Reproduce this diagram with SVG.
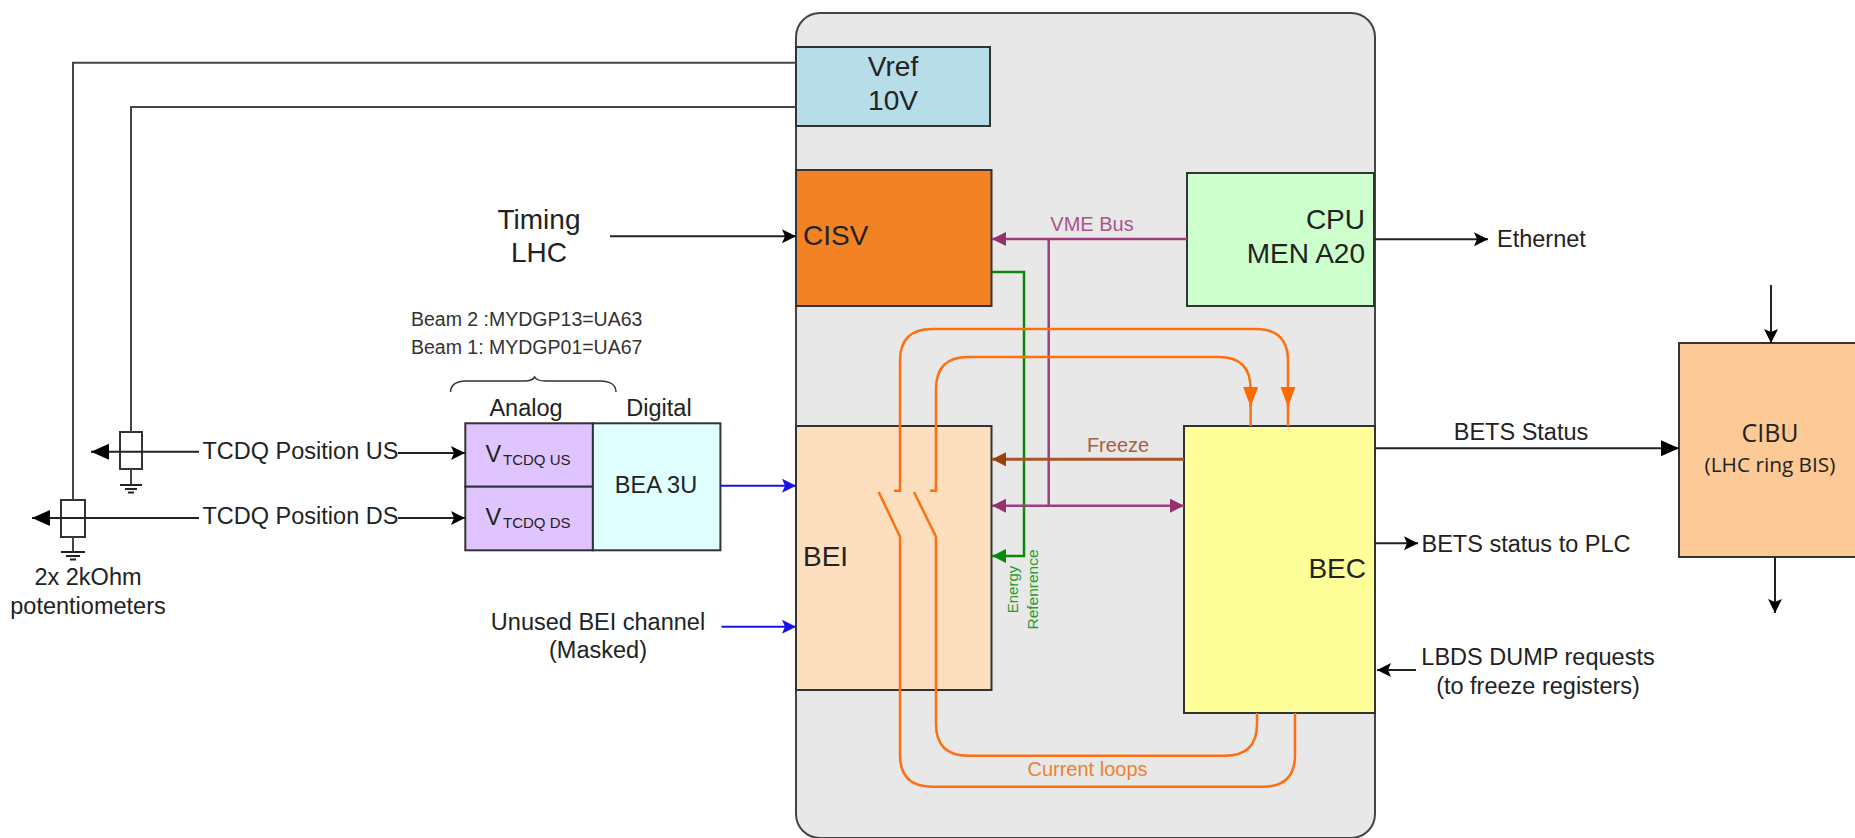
<svg xmlns="http://www.w3.org/2000/svg" width="1855" height="838" viewBox="0 0 1855 838">
<style>
text{font-family:"Liberation Sans",Arial,sans-serif;font-size:23.5px;fill:#222}
.m{text-anchor:middle}.e{text-anchor:end}
.big{font-size:28px}
.box{stroke:#333;stroke-width:2}
.w{fill:none;stroke:#222;stroke-width:2}
.t{fill:none;stroke:#444;stroke-width:2}
.o{fill:none;stroke:#ff6f10;stroke-width:2.5}
.p{fill:none;stroke:#9c3f7c;stroke-width:2.5}
.sm{font-size:19.5px;fill:#333}
.c{font-family:"Open Sans",sans-serif}
.sub{font-size:15px}
.lb{font-size:20px}
</style>
<defs>
<marker id="ab" markerUnits="userSpaceOnUse" markerWidth="16" markerHeight="16" refX="14" refY="7" orient="auto-start-reverse"><path d="M0 0L14 7L0 14L3 7Z" fill="#000"/></marker>
<marker id="abig" markerUnits="userSpaceOnUse" markerWidth="20" markerHeight="18" refX="18" refY="8" orient="auto"><path d="M0 0L18 8L0 16Z" fill="#000"/></marker>
<marker id="ablue" markerUnits="userSpaceOnUse" markerWidth="16" markerHeight="16" refX="14" refY="7" orient="auto"><path d="M0 0L14 7L0 14L3 7Z" fill="#1414e6"/></marker>
<marker id="apur" markerUnits="userSpaceOnUse" markerWidth="16" markerHeight="16" refX="14" refY="7" orient="auto-start-reverse"><path d="M0 0L14 7L0 14Z" fill="#97306f"/></marker>
<marker id="abro" markerUnits="userSpaceOnUse" markerWidth="16" markerHeight="16" refX="14" refY="7" orient="auto"><path d="M0 0L14 7L0 14Z" fill="#9a3f10"/></marker>
<marker id="agrn" markerUnits="userSpaceOnUse" markerWidth="16" markerHeight="16" refX="14" refY="7" orient="auto"><path d="M0 0L14 7L0 14Z" fill="#0a8a0a"/></marker>
<marker id="aora" markerUnits="userSpaceOnUse" markerWidth="16" markerHeight="22" refX="20" refY="7.5" orient="auto"><path d="M0 0L20 7.5L0 15Z" fill="#ff6a00"/></marker>
</defs>

<g id="crate"><rect x="796" y="13" width="579" height="825" rx="24" ry="24" fill="#e8e8e8" stroke="#444" stroke-width="2"/></g>

<g id="vref"><rect class="box" x="796" y="47" width="194" height="79" fill="#b7dde8"/><text class="m big" x="893" y="76">Vref</text><text class="m big" x="893" y="110">10V</text></g>
<g id="cisv"><rect class="box" x="796" y="170" width="195.500" height="136" fill="#f28224"/><text class="big" x="803" y="245">CISV</text></g>
<g id="cpu"><rect class="box" x="1187" y="173" width="187" height="133" fill="#ccffcc"/><text class="big e" x="1365" y="229">CPU</text><text class="big e" x="1365" y="263">MEN A20</text></g>
<g id="bei"><rect class="box" x="796" y="426" width="195.500" height="264" fill="#fddfc0"/><text class="big" x="803" y="566">BEI</text></g>
<g id="bec"><rect class="box" x="1184" y="426" width="191" height="287" fill="#ffff99"/><text class="big e" x="1366" y="578">BEC</text></g>
<g id="cibu"><rect class="box" x="1679" y="343" width="190" height="214" fill="#fcc997"/><text class="m c" x="1770" y="442" style="font-size:25px">CIBU</text><text class="m c" x="1770" y="472" style="font-size:20.800px">(LHC ring BIS)</text></g>
<g id="vtcdq-us"><rect class="box" x="465.300" y="423.300" width="127.600" height="63.400" fill="#e0c4ff"/><text x="485.500" y="462">V</text><text class="sub" x="503" y="465">TCDQ US</text></g>
<g id="vtcdq-ds"><rect class="box" x="465.300" y="486.700" width="127.600" height="63.600" fill="#e0c4ff"/><text x="485.500" y="525">V</text><text class="sub" x="503" y="528">TCDQ DS</text></g>
<g id="bea"><rect class="box" x="592.900" y="423.300" width="127.500" height="127" fill="#e0ffff"/><text class="m" x="656" y="493">BEA 3U</text></g>
<g id="pot-us"><rect x="120" y="432" width="22" height="37" fill="none" stroke="#333" stroke-width="2"/></g>
<g id="pot-ds"><rect x="61" y="500" width="24" height="37" fill="none" stroke="#333" stroke-width="2"/></g>

<g id="connectors">
<path class="t" d="M796 62.700H73V500M73 537V552"/>
<path class="t" d="M796 107H131V432M131 469V485"/>
<path class="w" d="M120 485h22M125 489h12M128 492.500h6M61 552h24M66 556h14M70 559.500h6"/>
<path class="w" d="M199 451.700H91" marker-end="url(#abig)"/>
<path class="w" d="M199 518H32" marker-end="url(#abig)"/>
<path class="w" d="M398 453H465" marker-end="url(#ab)"/>
<path class="w" d="M398 518H465" marker-end="url(#ab)"/>
<path class="w" d="M610 236.300H796" marker-end="url(#ab)"/>
<path class="w" d="M1375 239.300H1488" marker-end="url(#ab)"/>
<path class="w" d="M1375 448.300H1679" marker-end="url(#abig)"/>
<path class="w" d="M1375 543.300H1418" marker-end="url(#ab)"/>
<path class="w" d="M1416 670H1377" marker-end="url(#ab)"/>
<path class="w" d="M1771 285V343" marker-end="url(#ab)"/>
<path class="w" d="M1775 557V613" marker-end="url(#ab)"/>
<path fill="none" stroke="#1414e6" stroke-width="2" d="M720.400 485.700H796" marker-end="url(#ablue)"/>
<path fill="none" stroke="#1414e6" stroke-width="2" d="M721.500 626.700H796" marker-end="url(#ablue)"/>
<path fill="none" stroke="#0a8a0a" stroke-width="2.500" d="M992 272H1024V556H992" marker-end="url(#agrn)"/>
<path class="p" d="M1187 239H992" marker-end="url(#apur)"/>
<path class="p" d="M1048.700 239V505.700"/>
<path class="p" d="M992 505.700H1184" marker-start="url(#apur)" marker-end="url(#apur)"/>
<path fill="none" stroke="#a8552a" stroke-width="3" d="M1184 459.300H992" marker-end="url(#abro)"/>
<path class="o" d="M894 490.700H900V361Q900 329 932 329H1256Q1288 329 1288 361V407" marker-end="url(#aora)"/>
<path class="o" d="M1288 400V426"/>
<path class="o" d="M930 490.700H936V389Q936 357 968 357H1219Q1250.600 357 1250.600 389V407" marker-end="url(#aora)"/>
<path class="o" d="M1250.600 400V426"/>
<path class="o" d="M878.700 492L900 536.700V755Q900 786.700 932 786.700H1263Q1295 786.700 1295 755V713"/>
<path class="o" d="M914 492L936 536.700V724Q936 755.700 968 755.700H1225Q1257 755.700 1257 724V713"/>
<path fill="none" stroke="#333" stroke-width="1.500" d="M450.500 392C451 385 456 381 466 381H525Q532 381 534.700 377Q537 381 545 381H600C610 381 616 385 616 392"/>
</g>

<g id="labels">
<text class="m big" x="539" y="229">Timing</text>
<text class="m big" x="539" y="262">LHC</text>
<text class="sm" x="411" y="326">Beam 2 :MYDGP13=UA63</text>
<text class="sm" x="411" y="354">Beam 1: MYDGP01=UA67</text>
<text class="m" x="526" y="416">Analog</text>
<text class="m" x="659" y="416">Digital</text>
<text x="202.500" y="459">TCDQ Position US</text>
<text x="202.500" y="523.500">TCDQ Position DS</text>
<text class="m" x="88" y="585">2x 2kOhm</text>
<text class="m" x="88" y="613.500">potentiometers</text>
<text class="m" x="598" y="630">Unused BEI channel</text>
<text class="m" x="598" y="658">(Masked)</text>
<text x="1497" y="247">Ethernet</text>
<text class="m" x="1521" y="440">BETS Status</text>
<text x="1421.500" y="551.700">BETS status to PLC</text>
<text class="m" x="1538" y="665">LBDS DUMP requests</text>
<text class="m" x="1538" y="694">(to freeze registers)</text>
<text class="m lb" x="1092" y="231" style="fill:#a8558a">VME Bus</text>
<text class="m lb" x="1118" y="452" style="fill:#a8603a">Freeze</text>
<text class="m lb" x="1087.500" y="776" style="fill:#f08030">Current loops</text>
<text class="m" transform="translate(1018 589.500) rotate(-90)" style="font-size:15px;fill:#2a9a2a">Energy</text>
<text class="m" transform="translate(1038 589.500) rotate(-90)" style="font-size:15.500px;fill:#2a9a2a">Refenrence</text>
</g>
</svg>
